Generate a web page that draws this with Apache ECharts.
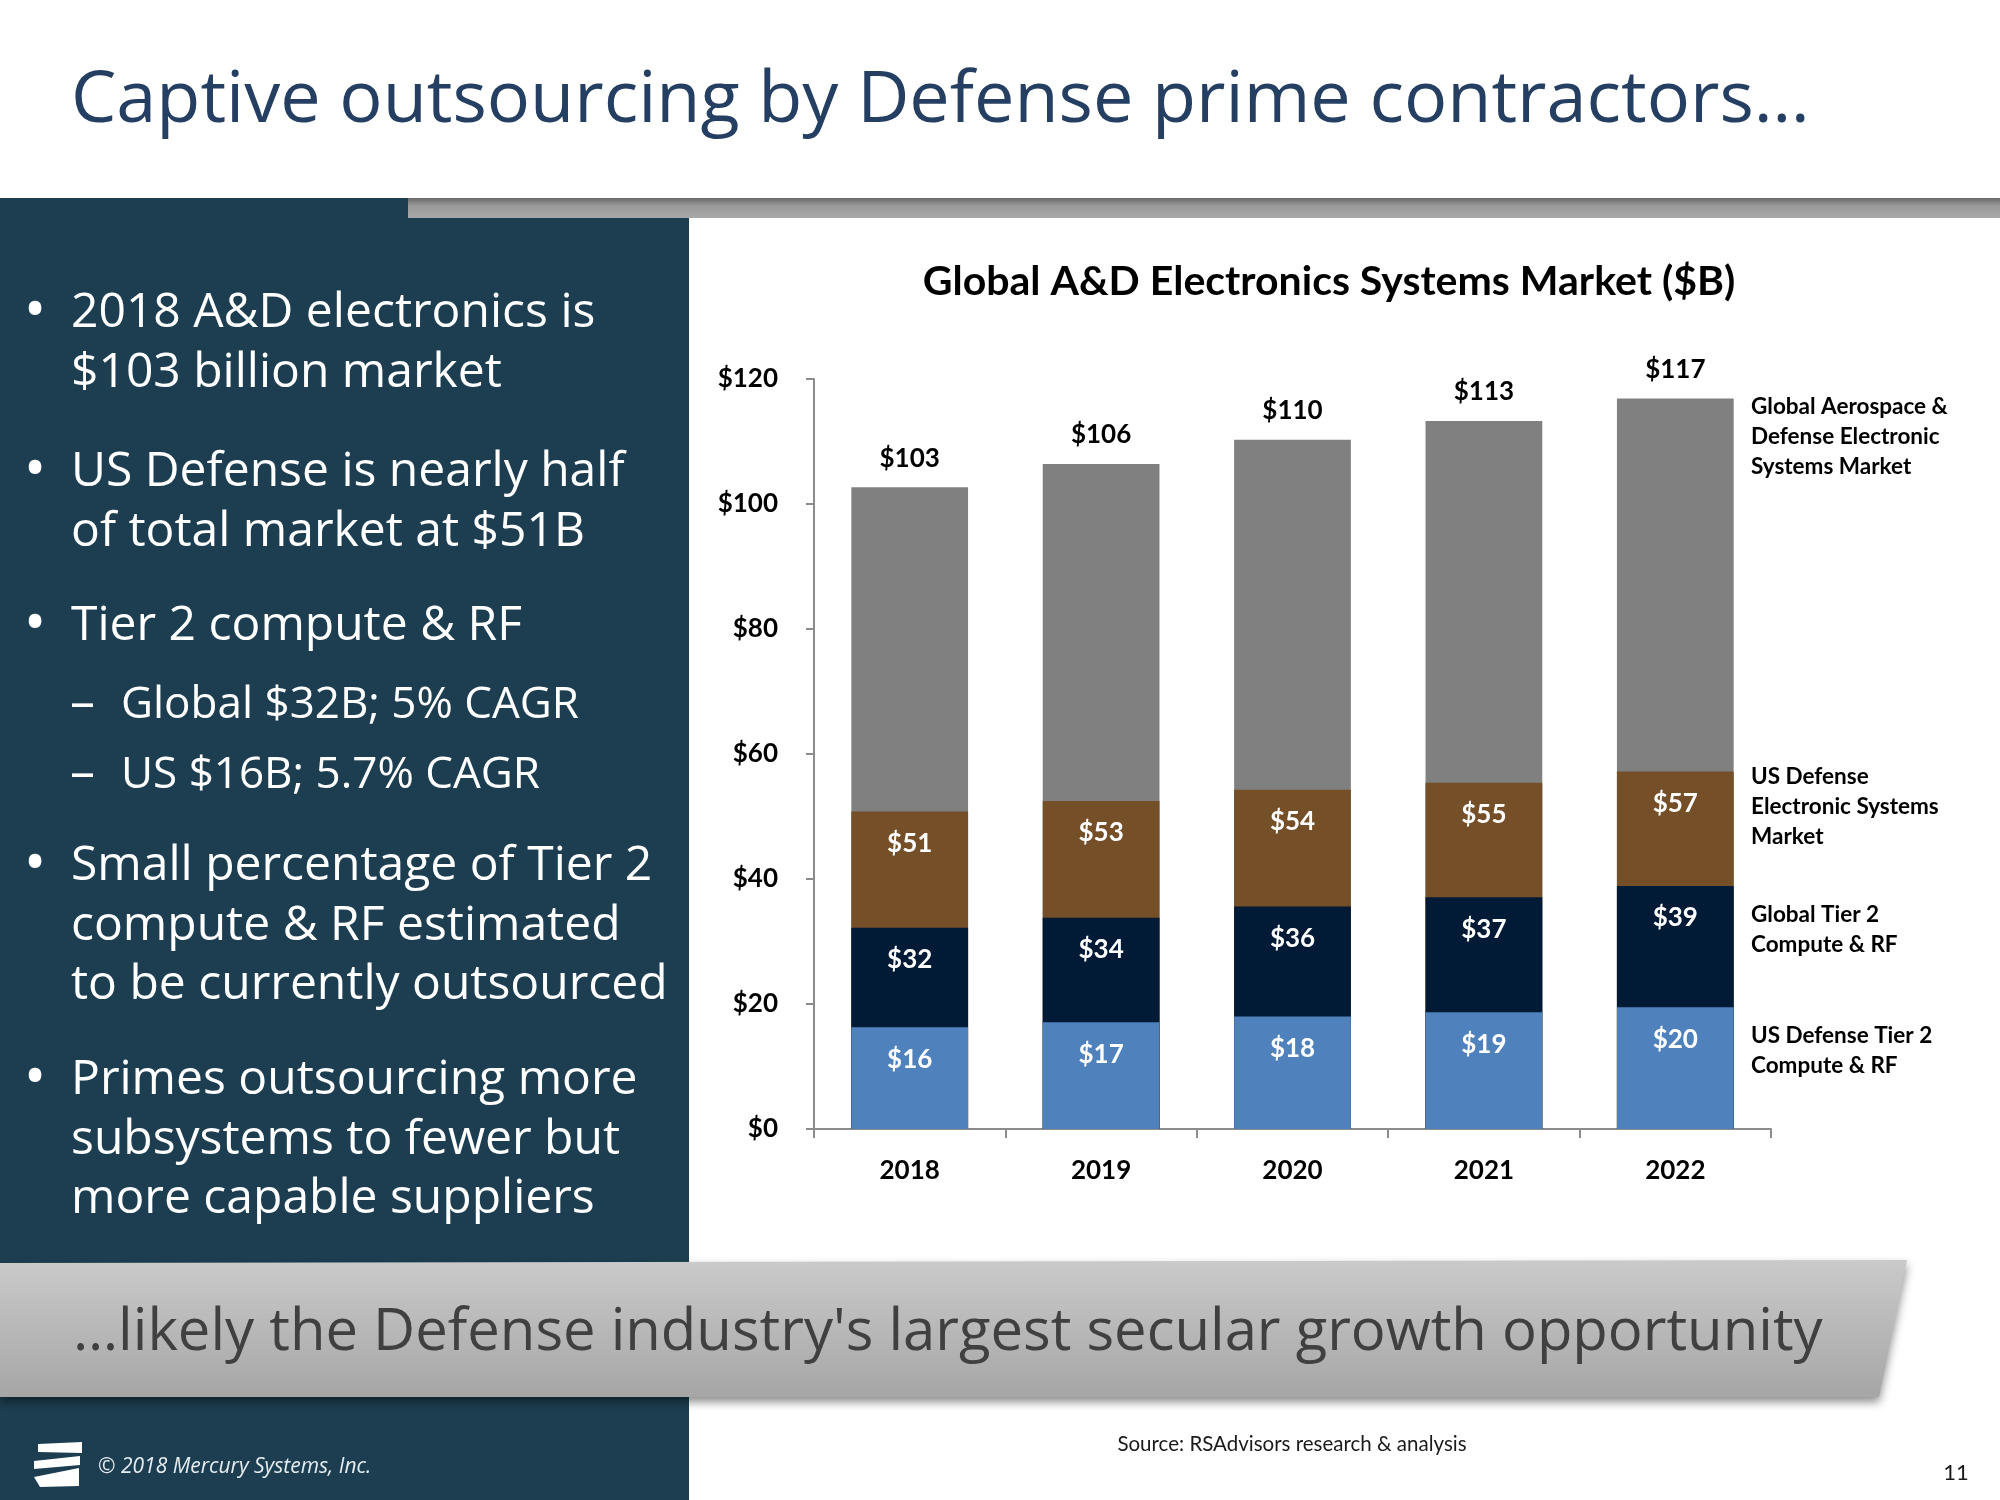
<!DOCTYPE html>
<html><head><meta charset="utf-8">
<script src="https://cdn.jsdelivr.net/npm/echarts@6/dist/echarts.min.js"></script>
<style>html,body{margin:0;padding:0;background:#fff}#c{width:2000px;height:1500px}</style>
</head><body><div id="c"></div>
<script>
// ---- data ----
const years = ['2018', '2019', '2020', '2021', '2022'];
const globalMarket = [102.7, 106.4, 110.3, 113.3, 116.9];
const usDefense = [50.8, 52.5, 54.3, 55.4, 57.2];
const globalTier2 = [32.2, 33.8, 35.6, 37.1, 38.9];
const usTier2 = [16.3, 17.1, 18.0, 18.7, 19.5];
const seriesNames = ['Global Aerospace &\nDefense Electronic\nSystems Market', 'US Defense\nElectronic Systems\nMarket', 'Global Tier 2\nCompute & RF', 'US Defense Tier 2\nCompute & RF'];
const bulletLines = [
  ['•', '2018 A&D electronics is'], ['', '$103 billion market'],
  ['•', 'US Defense is nearly half'], ['', 'of total market at $51B'],
  ['•', 'Tier 2 compute & RF'],
  ['–', 'Global $32B; 5% CAGR'], ['–', 'US $16B; 5.7% CAGR'],
  ['•', 'Small percentage of Tier 2'], ['', 'compute & RF estimated'], ['', 'to be currently outsourced'],
  ['•', 'Primes outsourcing more'], ['', 'subsystems to fewer but'], ['', 'more capable suppliers']
];

const chart = echarts.init(document.getElementById('c'));
const CF = 'Lato, "Open Sans", sans-serif';
const SF = '"Open Sans", "Noto Sans", sans-serif';

const bulletY = [313, 373, 472, 532, 626, 705, 775, 866, 926, 985, 1080, 1140, 1199];
const graphics = [];
// left panel
graphics.push({type: 'rect', z: -10, shape: {x: 0, y: 198, width: 689, height: 1302}, style: {fill: '#1C3E50'}});
// gray strip
graphics.push({type: 'rect', z: -5, shape: {x: 408, y: 198, width: 1592, height: 20},
  style: {fill: new echarts.graphic.LinearGradient(0, 0, 0, 1, [{offset: 0, color: '#6a6a6a'}, {offset: 0.4, color: '#9a9a9a'}, {offset: 1, color: '#a8a8a8'}])}});
// title
graphics.push({type: 'text', style: {text: 'Captive outsourcing by Defense prime contractors…', x: 71, y: 101, font: '72px ' + SF, fill: '#253F62', textVerticalAlign: 'middle'}});
// bullets
bulletLines.forEach((l, i) => {
  if (l[0] === '•') graphics.push({type: 'text', style: {text: '•', x: 35, y: bulletY[i], font: '60px ' + SF, fill: '#ffffff', textAlign: 'center', textVerticalAlign: 'middle'}});
  if (l[0] === '–') graphics.push({type: 'text', style: {text: '–', x: 70, y: bulletY[i], font: '50px ' + SF, fill: '#ffffff', textVerticalAlign: 'middle'}});
  graphics.push({type: 'text', style: {text: l[1], x: l[0] === '–' ? 121 : 71, y: bulletY[i], font: (l[0] === '–' ? '44px ' : '48px ') + SF, fill: '#ffffff', textVerticalAlign: 'middle'}});
});
// banner
graphics.push({type: 'polygon', z: 5, shape: {points: [[0, 1263], [1907, 1260], [1879, 1397], [0, 1397]]},
  style: {fill: new echarts.graphic.LinearGradient(0, 0, 0, 1, [{offset: 0, color: '#cacaca'}, {offset: 1, color: '#a6a6a6'}]),
    shadowBlur: 10, shadowColor: 'rgba(0,0,0,0.45)', shadowOffsetY: 5}});
graphics.push({type: 'text', z: 6, style: {text: '…likely the Defense industry\'s largest secular growth opportunity', x: 73, y: 1333, font: '58px ' + SF, fill: '#404040', textVerticalAlign: 'middle'}});
// footer
graphics.push({type: 'polygon', shape: {points: [[38, 1444], [82, 1442], [82, 1453], [38, 1452]]}, style: {fill: '#fff'}});
graphics.push({type: 'polygon', shape: {points: [[34, 1461], [80, 1456], [80, 1465], [34, 1469]]}, style: {fill: '#fff'}});
graphics.push({type: 'polygon', shape: {points: [[34, 1477], [79, 1468], [79, 1486], [40, 1487]]}, style: {fill: '#fff'}});
graphics.push({type: 'text', style: {text: '© 2018 Mercury Systems, Inc.', x: 98, y: 1467, font: 'italic 21px ' + SF, fill: '#e6edf1', textVerticalAlign: 'middle'}});
graphics.push({type: 'text', style: {text: 'Source: RSAdvisors research & analysis', x: 1292, y: 1444, font: '20.5px ' + CF, fill: '#1a1a1a', textAlign: 'center', textVerticalAlign: 'middle'}});
graphics.push({type: 'text', style: {text: '11', x: 1956, y: 1473, font: '22px ' + CF, fill: '#1a1a1a', textAlign: 'center', textVerticalAlign: 'middle'}});
// chart title
graphics.push({type: 'text', style: {text: 'Global A&D Electronics Systems Market ($B)', x: 1329, y: 282, font: 'bold 41px ' + CF, fill: '#000', textAlign: 'center', textVerticalAlign: 'middle'}});
// series annotations
const annTop = [392, 762, 900, 1021];
seriesNames.forEach((n, i) => {
  graphics.push({type: 'text', style: {text: n, x: 1751, y: annTop[i], font: 'bold 22.5px ' + CF, lineHeight: 30, fill: '#000', textVerticalAlign: 'top'}});
});

const fmt = p => '$' + Math.round(p.value);
const inLabel = {show: true, position: 'insideTop', distance: 19, color: '#fff', fontFamily: CF, fontWeight: 'bold', fontSize: 26, formatter: fmt};

chart.setOption({
  animation: false,
  backgroundColor: '#fff',
  graphic: graphics,
  grid: {left: 814, right: 229, top: 379, bottom: 371, containLabel: false},
  xAxis: {type: 'category', data: years,
    axisLine: {lineStyle: {color: '#8c8c8c', width: 2}},
    axisTick: {show: true, length: 9, lineStyle: {color: '#8c8c8c', width: 2}},
    axisLabel: {color: '#000', fontFamily: CF, fontWeight: 'bold', fontSize: 26, margin: 29}},
  yAxis: {type: 'value', min: 0, max: 120, interval: 20,
    splitLine: {show: false},
    axisLine: {show: true, lineStyle: {color: '#8c8c8c', width: 2}},
    axisTick: {show: true, length: 8, lineStyle: {color: '#8c8c8c', width: 2}},
    axisLabel: {color: '#000', fontFamily: CF, fontWeight: 'bold', fontSize: 26, margin: 36, formatter: v => '$' + v}},
  series: [
    {name: 'Global', type: 'bar', data: globalMarket, barCategoryGap: '39%', barGap: '-100%', itemStyle: {color: '#808080'},
      label: {show: true, position: 'top', distance: 16, color: '#000', fontFamily: CF, fontWeight: 'bold', fontSize: 26, formatter: fmt}},
    {name: 'US Defense', type: 'bar', data: usDefense, barCategoryGap: '39%', barGap: '-100%', itemStyle: {color: '#744F27'}, label: inLabel},
    {name: 'Global Tier 2', type: 'bar', data: globalTier2, barCategoryGap: '39%', barGap: '-100%', itemStyle: {color: '#011A35'}, label: inLabel},
    {name: 'US Tier 2', type: 'bar', data: usTier2, barCategoryGap: '39%', barGap: '-100%', itemStyle: {color: '#4F81BD'}, label: inLabel}
  ]
});
</script></body></html>
